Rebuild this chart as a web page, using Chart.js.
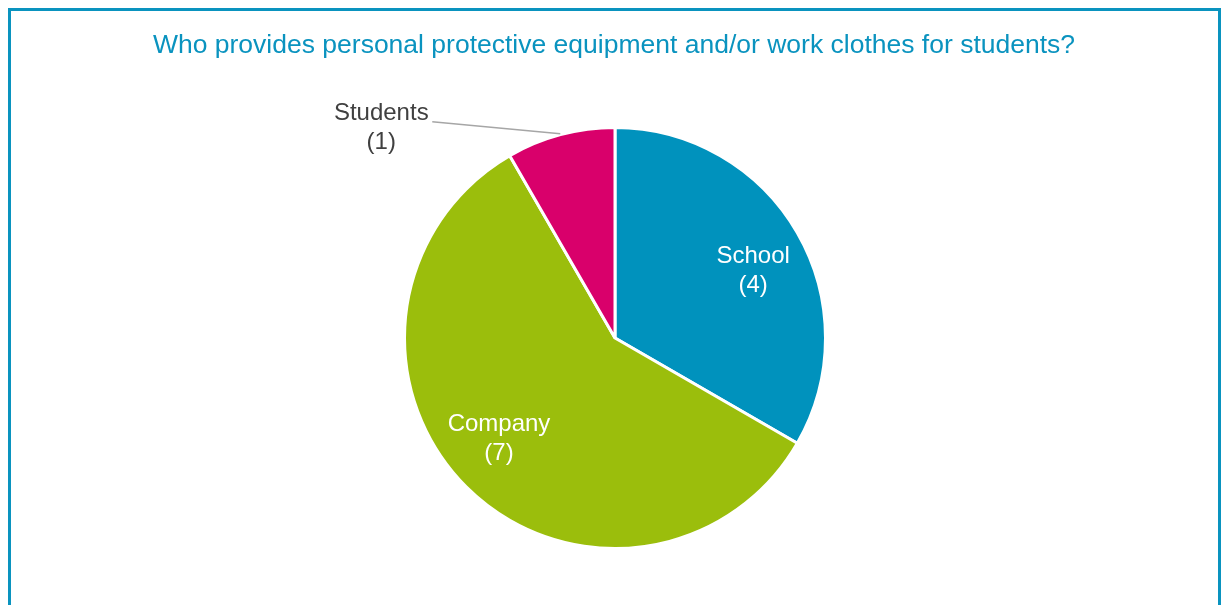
<!DOCTYPE html>
<html lang="en">
<head>
    <meta charset="UTF-8">
    <title>Personal protective equipment</title>
    <style>
        body {
            margin: 0;
            padding: 0;
            background-color: #ffffff;
            font-family: 'Liberation Sans', Arial, sans-serif;
        }
        .frame {
            position: absolute;
            left: 8px;
            top: 8px;
            width: 1207px;
            height: 640px;
            border: 3px solid #0a93bf;
        }
        #pie {
            position: absolute;
            left: 0;
            top: 0;
        }
    </style>
</head>
<body>
    <div class="frame"></div>
    <canvas id="pie" width="1221" height="605"></canvas>

    <script src="https://cdn.jsdelivr.net/npm/chart.js"></script>
    <script>
        // Data
        const providers = ['School', 'Company', 'Students'];
        const counts = [4, 7, 1];
        const sliceColors = ['#0092bd', '#9bbe0c', '#d9006b'];
        const chartTitle = 'Who provides personal protective equipment and/or work clothes for students?';

        // Draws the title and slice labels
        const labelPlugin = {
            id: 'sliceLabels',
            afterDraw(chart) {
                const ctx = chart.ctx;
                ctx.save();
                ctx.textAlign = 'center';
                ctx.textBaseline = 'middle';
                ctx.fillStyle = '#0a93bf';
                ctx.font = '26.5px "Liberation Sans", Arial, sans-serif';
                ctx.fillText(chartTitle, 614, 46);

                const arcs = chart.getDatasetMeta(0).data;
                arcs.forEach((arc, i) => {
                    const mid = (arc.startAngle + arc.endAngle) / 2;
                    const r = arc.outerRadius;
                    ctx.font = '24px "Liberation Sans", Arial, sans-serif';
                    if (i === 2) {
                        // outside label with leader line
                        const sx = arc.x + Math.cos(mid) * (r + 1);
                        const sy = arc.y + Math.sin(mid) * (r + 1);
                        const ex = sx - 128;
                        const ey = sy - 12;
                        ctx.strokeStyle = '#a6a6a6';
                        ctx.lineWidth = 1.5;
                        ctx.beginPath();
                        ctx.moveTo(sx, sy);
                        ctx.lineTo(ex, ey);
                        ctx.stroke();
                        ctx.fillStyle = '#404040';
                        ctx.fillText(providers[i], ex - 51, ey - 8);
                        ctx.fillText('(' + counts[i] + ')', ex - 51, ey + 21);
                    } else {
                        const a = mid + 0.07;
                        const px = arc.x + Math.cos(a) * r * 0.73;
                        const py = arc.y + Math.sin(a) * r * 0.73;
                        ctx.fillStyle = '#ffffff';
                        ctx.fillText(providers[i], px, py - 14);
                        ctx.fillText('(' + counts[i] + ')', px, py + 15);
                    }
                });
                ctx.restore();
            }
        };

        new Chart(document.getElementById('pie'), {
            type: 'pie',
            data: {
                labels: providers,
                datasets: [{
                    data: counts,
                    backgroundColor: sliceColors,
                    borderColor: '#ffffff',
                    borderWidth: 3
                }]
            },
            options: {
                responsive: false,
                animation: false,
                layout: {
                    padding: { top: 126, bottom: 55, left: 9, right: 0 }
                },
                plugins: {
                    legend: { display: false },
                    tooltip: { enabled: false }
                }
            },
            plugins: [labelPlugin]
        });
    </script>
</body>
</html>
